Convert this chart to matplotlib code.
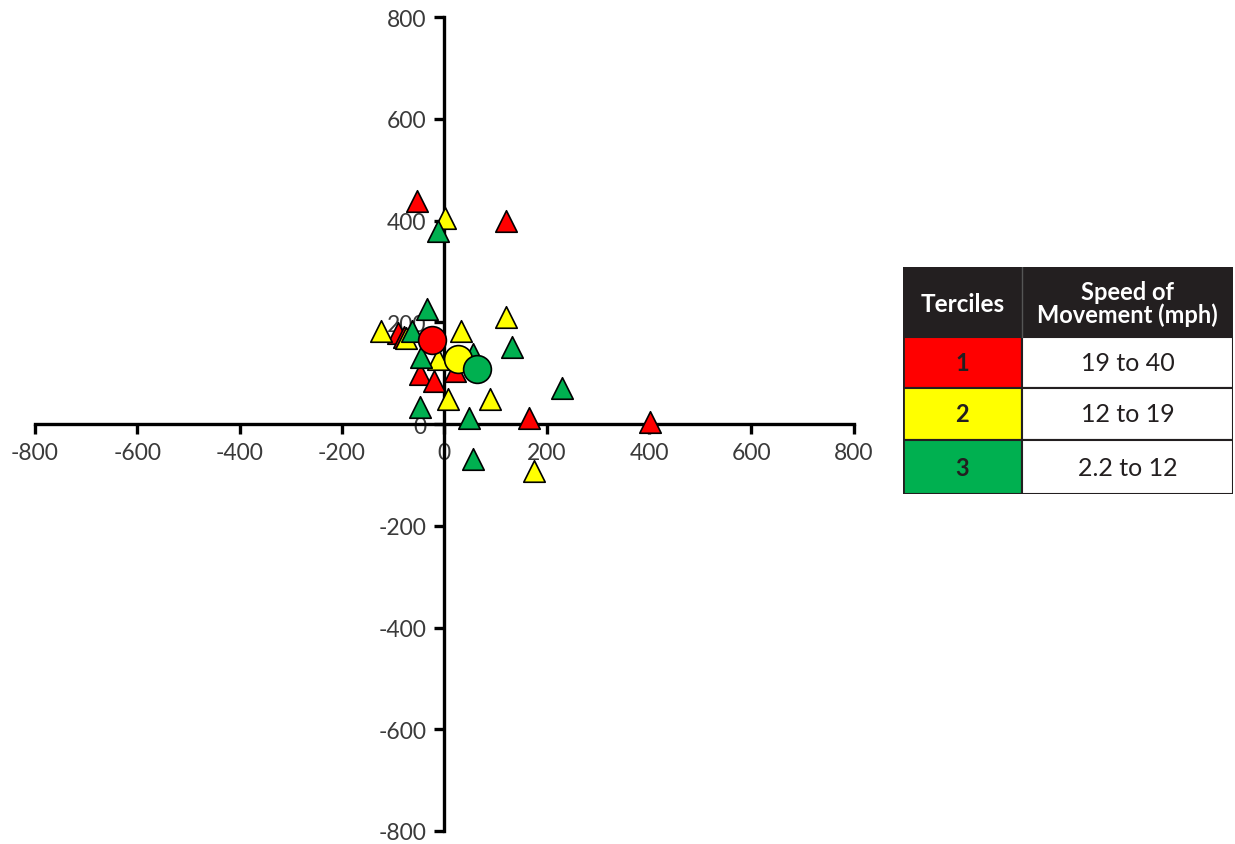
import numpy as np
import matplotlib.pyplot as plt
from matplotlib.patches import Rectangle

plt.rcParams['font.family'] = ['Lato', 'DejaVu Sans']
plt.rcParams['axes.unicode_minus'] = False

# storm motion offsets by tercile (triangles) and tercile means (circles)
red_x = [-54, 121, -90, -78, -48, -20, 20, 166, 401]
red_y = [439, 399, 180, 172, 98, 85, 105, 13, 5]
yellow_x = [1, -123, -74, 32, 121, -12, 7, 89, 175]
yellow_y = [406, 183, 170, 183, 210, 128, 49, 49, -92]
green_x = [-13, -34, -64, -46, 132, 229, -48, 48, 56, 56]
green_y = [380, 226, 183, 131, 151, 72, 33, 13, -69, 137]
mean_x = [-25, 27, 63]
mean_y = [166, 128, 108]

colors = ['#FF0000', '#FFFF00', '#00B050']
terciles = ['1', '2', '3']
speeds = ['19 to 40', '12 to 19', '2.2 to 12']
ticks = [-800, -600, -400, -200, 0, 200, 400, 600, 800]

fig = plt.figure(figsize=(12.35, 8.45), dpi=100)
ax = fig.add_axes([0.0283, 0.0154, 0.663, 0.963])

for xs, ys, c in zip([red_x, yellow_x, green_x], [red_y, yellow_y, green_y], colors):
    ax.scatter(xs, ys, marker='^', s=240, c=c, edgecolors='black', linewidths=1.2,
               zorder=5, clip_on=False)
for mx, my, c in zip(mean_x, mean_y, colors):
    ax.scatter([mx], [my], marker='o', s=400, c=c, edgecolors='black', linewidths=1.2,
               zorder=6, clip_on=False)

ax.set_xlim(-800, 800)
ax.set_ylim(-800, 800)
ax.spines['left'].set_position(('data', 0))
ax.spines['bottom'].set_position(('data', 0))
ax.spines['right'].set_visible(False)
ax.spines['top'].set_visible(False)
for s in ['left', 'bottom']:
    ax.spines[s].set_linewidth(2.4)
ax.set_xticks(ticks)
ax.set_yticks(ticks)
ax.tick_params(direction='out', length=7, width=2.4, labelsize=16.5,
               labelcolor='#3a3a3a', pad=6)

# legend table
tab = fig.add_axes([903 / 1235, (845 - 495) / 845, 330 / 1235, 227 / 845])
tab.set_xlim(0, 330)
tab.set_ylim(227, 0)
tab.axis('off')
row_tops = [0, 70, 121, 173, 227]
col_div = 119
tab.add_patch(Rectangle((0, 0), 330, 70, facecolor='#231F20', edgecolor='#231F20', lw=1.5))
tab.text(col_div / 2, 37, 'Terciles', ha='center', va='center', color='white',
         fontsize=17.5, fontweight='bold')
tab.text((col_div + 330) / 2, 36, 'Speed of\nMovement (mph)', ha='center', va='center',
         color='white', fontsize=17, fontweight='bold', linespacing=1.0)
for i in range(3):
    y0, y1 = row_tops[i + 1], row_tops[i + 2]
    tab.add_patch(Rectangle((0, y0), col_div, y1 - y0, facecolor=colors[i],
                            edgecolor='#231F20', lw=1.5))
    tab.add_patch(Rectangle((col_div, y0), 330 - col_div, y1 - y0, facecolor='white',
                            edgecolor='#231F20', lw=1.5))
    tab.text(col_div / 2, (y0 + y1) / 2, terciles[i], ha='center', va='center',
             fontsize=17, fontweight='bold', color='#231F20')
    tab.text((col_div + 330) / 2, (y0 + y1) / 2, speeds[i], ha='center', va='center',
             fontsize=18, color='#231F20')
tab.plot([col_div, col_div], [0, 70], color='#555555', lw=1)
tab.add_patch(Rectangle((0, 0), 330, 227, facecolor='none', edgecolor='#231F20', lw=2))

fig.savefig('out.png', dpi=100)
